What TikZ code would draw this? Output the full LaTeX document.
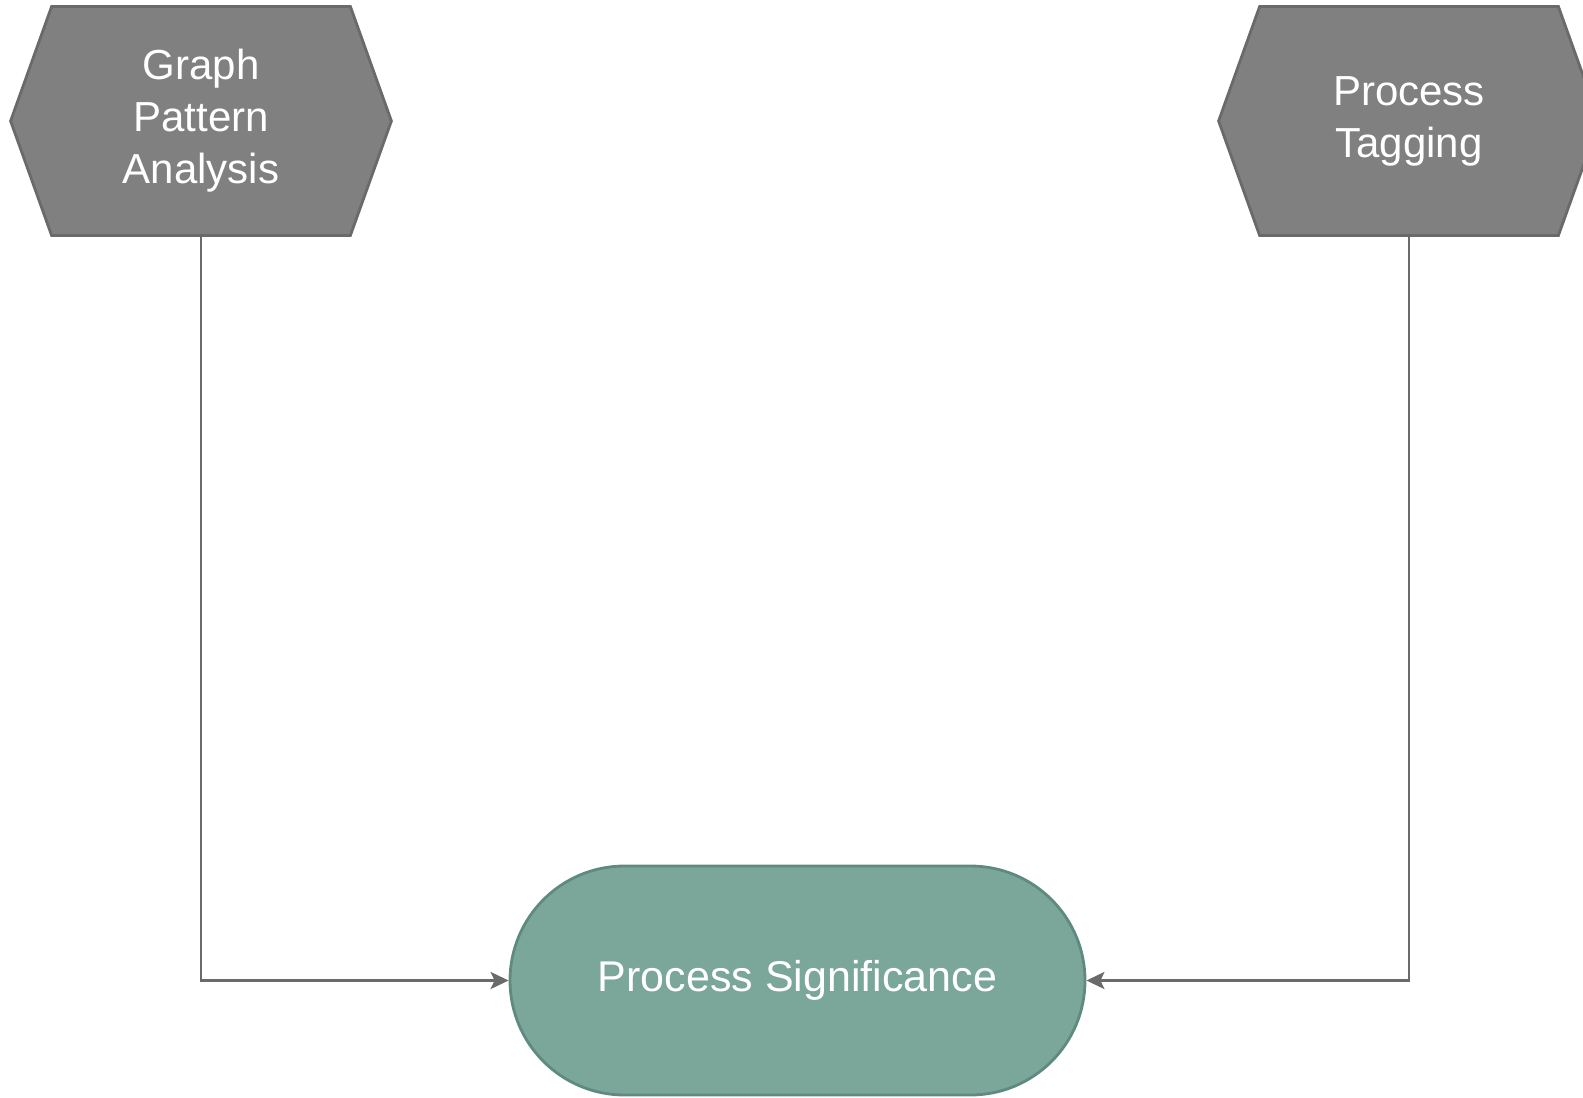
\documentclass[tikz,border=0pt]{standalone}
\usepackage{fontspec}
\setmainfont{Liberation Sans}
\usetikzlibrary{calc,arrows.meta}
\definecolor{hexfill}{HTML}{808080}
\definecolor{hexline}{HTML}{6A6A6A}
\definecolor{sigfill}{HTML}{7BA69A}
\definecolor{sigline}{HTML}{5F8A7F}
\definecolor{linkcol}{HTML}{6A6A6A}
\tikzset{
  hexcore/.style={minimum width=149pt, minimum height=114pt, inner sep=0pt,
    align=center, text=white, font=\fontsize{21}{26}\selectfont},
  hexbody/.style={fill=hexfill, draw=hexline, line width=1.4pt, line join=miter},
  stadium/.style={rectangle, rounded corners=57.25pt, minimum width=287.5pt,
    minimum height=114.5pt, fill=sigfill, draw=sigline, line width=1.4pt,
    text=white, font=\fontsize{21.5}{26}\selectfont},
  link/.style={draw=linkcol, line width=1.4pt,
    -{Stealth[length=9pt,width=8.5pt,inset=2pt]}}
}
\begin{document}
\begin{tikzpicture}[x=0.5pt,y=-0.5pt]
  \useasboundingbox (0,0) rectangle (1583,1097);
  \clip (0,0) rectangle (1583,1097);
  % hexagon outlines, drawn behind the text nodes
  \path (201,121) node[hexcore] (gpa) {\phantom{X}};
  \path (1409,121) node[hexcore] (tag) {\phantom{X}};
  \foreach \n in {gpa,tag}{
    \path[hexbody] (\n.north west) -- (\n.north east) -- ($(\n.east)+(41,0)$)
      -- (\n.south east) -- (\n.south west) -- ($(\n.west)+(-41,0)$) -- cycle;
  }
  \node[hexcore] at (gpa) {Graph\\Pattern\\Analysis};
  \node[hexcore] at (tag) {Process\\Tagging};
  % target of both flows
  \node[stadium] (sig) at (797.5,980.5) {Process Significance};
  \draw[link] (gpa.south) |- (sig.west);
  \draw[link] (tag.south) |- (sig.east);
\end{tikzpicture}
\end{document}
